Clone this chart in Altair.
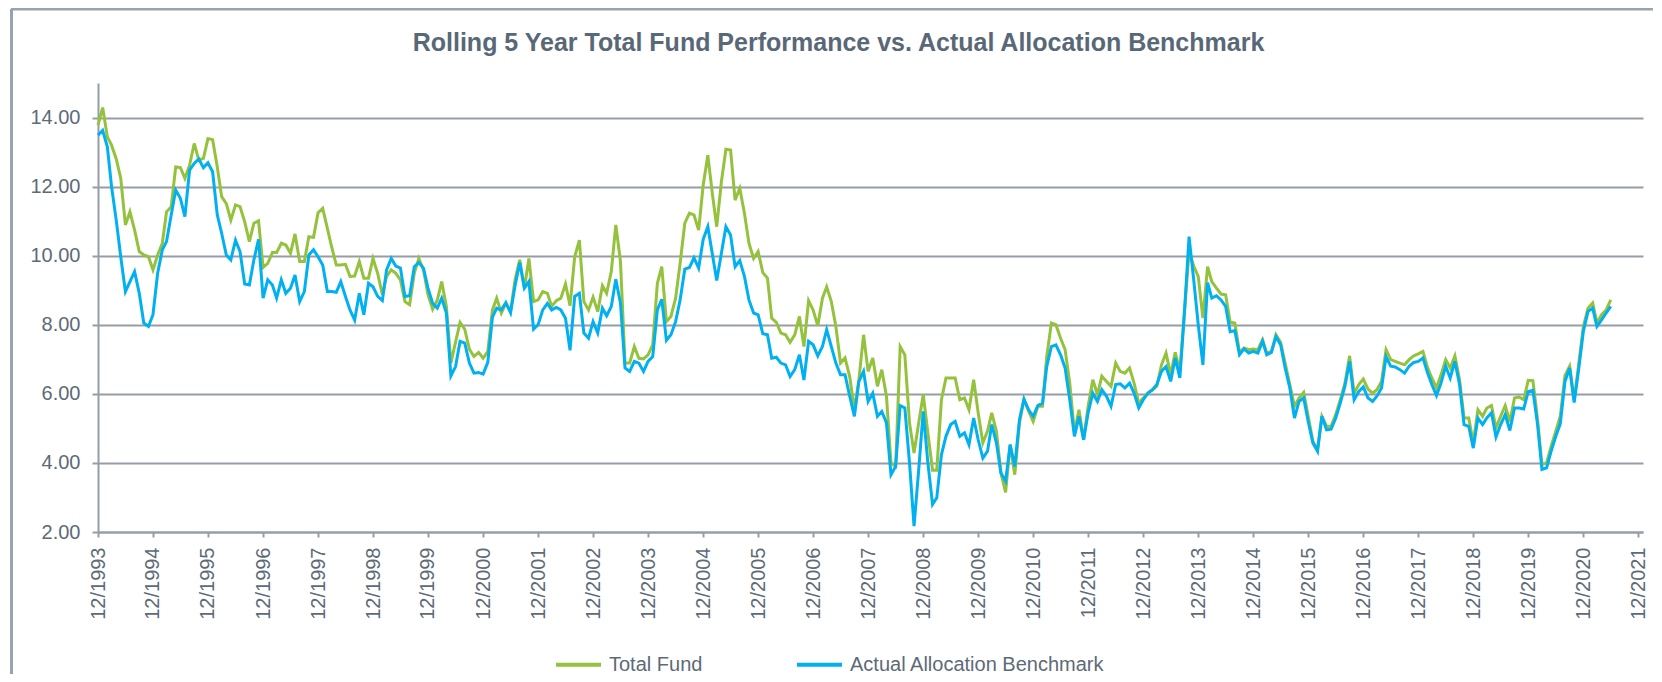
import altair as alt
import pandas as pd

start_month = "1993-12-01"
series_names = ["Total Fund", "Actual Allocation Benchmark"]
series_colors = ["#94c23c", "#00b0f0"]
tick_years = list(range(1993, 2022))
y_ticks = [2, 4, 6, 8, 10, 12, 14]

total_fund = [
    13.78, 14.29, 13.44, 13.2, 12.8, 12.24, 10.89, 11.27, 10.74, 10.12,
    10.02, 9.97, 9.59, 10.02, 10.36, 11.27, 11.42, 12.57, 12.55, 12.24,
    12.62, 13.25, 12.77, 12.82, 13.39, 13.36, 12.57, 11.71, 11.51, 11.03,
    11.47, 11.42, 10.98, 10.41, 10.94, 11.01, 9.66, 9.78, 10.09, 10.09,
    10.36, 10.31, 10.07, 10.63, 9.83, 9.83, 10.55, 10.53, 11.24, 11.37,
    10.79, 10.26, 9.73, 9.73, 9.75, 9.4, 9.41, 9.83, 9.35, 9.35,
    9.92, 9.49, 8.87, 9.4, 9.59,
    9.49, 9.3, 8.67, 8.58, 9.5, 9.92, 9.59, 8.87, 8.45, 8.72,
    9.25, 8.53, 6.89, 7.5, 8.07, 7.87, 7.29, 7.08, 7.2, 7.03,
    7.23, 8.43, 8.77, 8.34, 8.62, 8.38, 9.3, 9.88, 9.06, 9.92,
    8.67, 8.72, 8.96, 8.91, 8.53, 8.7, 8.77, 9.18, 8.55, 9.97,
    10.45, 8.67, 8.43, 8.8, 8.38, 9.13, 8.91, 9.54, 10.89, 9.83,
    6.89, 6.89, 7.37, 7.03, 7.01, 7.13, 7.42, 9.2, 9.68, 8.09,
    8.24, 8.77, 9.78, 10.94, 11.23, 11.18, 10.74, 12.04, 12.91, 11.76,
    10.84, 12.14, 13.08, 13.06, 11.61, 11.95, 11.23, 10.36, 9.92, 10.12,
    9.51, 9.35, 8.19, 8.07, 7.76, 7.71, 7.49, 7.71, 8.24, 7.37,
    8.7, 8.43, 7.97,
    8.77, 9.1, 8.67, 7.95, 6.89, 7.04, 6.5, 5.54, 6.41, 7.71,
    6.65, 7.04, 6.22, 6.7, 5.93, 4.0, 3.9, 7.37, 7.13, 5.16,
    4.29, 5.16, 5.98, 4.87, 3.79, 3.79, 5.83, 6.46, 6.46, 6.46,
    5.83, 5.88, 5.54, 6.41, 5.45, 4.58, 4.92, 5.45, 4.92, 3.71,
    3.15, 4.53, 3.66, 5.16, 5.83, 5.5, 5.2, 5.64, 5.64, 7.08,
    8.05, 8.0, 7.61, 7.28, 6.31, 4.87, 5.54, 4.67, 5.64, 6.41,
    5.98, 6.51, 6.36, 6.22, 6.89, 6.65, 6.6, 6.75, 6.31, 5.73,
    5.88, 6.02, 6.12, 6.22, 6.84, 7.18, 6.55, 7.2, 6.65,
    8.4, 10.1, 9.7, 9.4, 8.19, 9.68, 9.25, 9.06, 8.89, 8.87, 8.07, 8.05,
    7.2, 7.33, 7.28, 7.3, 7.28, 7.57, 7.18, 7.23, 7.71, 7.49,
    6.89, 6.27, 5.64, 5.88, 6.04, 5.35, 4.63, 4.39, 5.35, 5.06,
    5.06, 5.4, 5.83, 6.31, 7.1, 6.02, 6.27, 6.43, 6.14, 6.02,
    6.12, 6.36, 7.28, 6.99, 6.94, 6.89, 6.84, 6.99, 7.1, 7.16,
    7.23, 6.75, 6.46, 6.17, 6.55, 6.99, 6.75, 7.1, 6.41, 5.3,
    5.3, 4.58, 5.54, 5.35, 5.59, 5.66, 5.01, 5.35, 5.66, 5.2,
    5.88, 5.91, 5.83, 6.39, 6.38, 5.25, 3.95, 4.0, 4.48, 4.92,
    5.35, 6.53, 6.8, 5.83, 6.89, 7.95, 8.48, 8.63, 8.05, 8.29,
    8.43, 8.72,
]

benchmark = [
    13.49, 13.63, 13.15, 12.0, 11.03, 9.97, 8.96, 9.25, 9.54, 8.91,
    8.05, 7.95, 8.29, 9.49, 10.17, 10.41, 11.18, 11.9, 11.66, 11.13,
    12.48, 12.67, 12.8, 12.55, 12.69, 12.43, 11.18, 10.65, 10.02, 9.88,
    10.45, 10.12, 9.18, 9.15, 9.88, 10.47, 8.77, 9.3, 9.15, 8.77,
    9.3, 8.91, 9.06, 9.44, 8.67, 8.96, 10.02, 10.17, 9.97, 9.73,
    8.96, 8.96, 8.94, 9.25, 8.82, 8.43, 8.14, 8.91, 8.29, 9.2,
    9.1, 8.82, 8.7, 9.59, 9.92,
    9.7, 9.64, 8.82, 8.84, 9.68, 9.8, 9.64, 9.06, 8.62, 8.48,
    8.77, 8.34, 6.52, 6.79, 7.52, 7.47, 6.89, 6.6, 6.62, 6.57,
    6.91, 8.22, 8.48, 8.43, 8.64, 8.35, 9.13, 9.8, 9.06, 9.25,
    7.87, 8.0, 8.43, 8.62, 8.43, 8.5, 8.43, 8.19, 7.26, 8.82,
    8.91, 7.76, 7.61, 8.09, 7.76, 8.48, 8.26, 8.53, 9.32, 8.62,
    6.75, 6.65, 6.94, 6.89, 6.65, 6.94, 7.08, 8.43, 8.74, 7.55,
    7.71, 8.09, 8.72, 9.61, 9.66, 9.94, 9.64, 10.47, 10.84, 10.02,
    9.28, 10.07, 10.84, 10.6, 9.68, 9.86, 9.4, 8.72, 8.34, 8.29,
    7.74, 7.71, 7.03, 7.06, 6.89, 6.84, 6.5, 6.7, 7.13, 6.4,
    7.52, 7.42, 7.1,
    7.37, 7.86, 7.37, 6.89, 6.55, 6.55, 5.93, 5.35, 6.36, 6.65,
    5.78, 6.02, 5.35, 5.49, 5.16, 3.66, 3.9, 5.66, 5.59, 4.0,
    2.17, 3.8, 5.49, 4.0, 2.8, 2.99, 4.24, 4.77, 5.11, 5.2,
    4.77, 4.87, 4.53, 5.3, 4.67, 4.14, 4.34, 5.11, 4.58, 3.71,
    3.47, 4.53, 3.9, 5.25, 5.85, 5.54, 5.35, 5.66, 5.73, 6.79,
    7.37, 7.42, 7.13, 6.75, 5.83, 4.77, 5.35, 4.67, 5.45, 6.02,
    5.78, 6.12, 5.93, 5.64, 6.27, 6.29, 6.17, 6.31, 6.02, 5.59,
    5.83, 6.02, 6.12, 6.27, 6.65, 6.79, 6.36, 7.04, 6.46,
    8.4, 10.55, 9.3, 8.0, 6.84, 9.22, 8.77, 8.84, 8.72, 8.53, 7.8, 7.83,
    7.13, 7.3, 7.18, 7.23, 7.18, 7.52, 7.13, 7.2, 7.66, 7.42,
    6.75, 6.17, 5.3, 5.78, 5.88, 5.2, 4.58, 4.34, 5.35, 4.96,
    4.98, 5.3, 5.73, 6.22, 6.94, 5.83, 6.07, 6.2, 5.88, 5.78,
    5.93, 6.17, 7.07, 6.8, 6.78, 6.7, 6.6, 6.8, 6.91, 6.94,
    7.04, 6.6, 6.27, 5.95, 6.31, 6.8, 6.46, 6.94, 6.27, 5.11,
    5.06, 4.43, 5.3, 5.11, 5.3, 5.45, 4.75, 5.11, 5.4, 4.94,
    5.59, 5.59, 5.56, 6.07, 6.1, 5.11, 3.81, 3.86, 4.34, 4.77,
    5.14, 6.36, 6.75, 5.75, 6.75, 7.81, 8.39, 8.48, 7.95, 8.14,
    8.34, 8.53,
]

FONT = "Liberation Sans"
TEXT = "#5d6a77"
GRID = "#959ea6"

tf_df = pd.DataFrame({
    "date": pd.date_range(start_month, periods=len(total_fund), freq="MS"),
    "value": total_fund,
    "series": series_names[0],
})
bm_df = pd.DataFrame({
    "date": pd.date_range(start_month, periods=len(benchmark), freq="MS"),
    "value": benchmark,
    "series": series_names[1],
})

x_enc = alt.X(
    "date:T",
    scale=alt.Scale(domain=[alt.DateTime(year=1993, month=12, date=1),
                            alt.DateTime(year=2022, month=1, date=1)]),
    axis=alt.Axis(
        values=[alt.DateTime(year=y, month=12, date=1) for y in tick_years],
        format="%m/%Y", labelAngle=-90, labelFontSize=20, labelFont=FONT,
        labelColor=TEXT, tickSize=5, tickWidth=2, tickColor=GRID,
        labelPadding=10, domainColor=GRID, domainWidth=2, grid=False,
        title=None, labelOverlap=False, labelFlush=False,
    ),
)
y_enc = alt.Y(
    "value:Q",
    scale=alt.Scale(domain=[2, 15], nice=False, zero=False),
    axis=alt.Axis(
        values=y_ticks, format=".2f", labelFontSize=20, labelFont=FONT,
        labelColor=TEXT, tickSize=6, tickWidth=2, tickColor=GRID,
        labelPadding=12, domainColor=GRID, domainWidth=2, grid=True,
        gridColor=GRID, gridWidth=2, title=None,
    ),
)
color_enc = alt.Color(
    "series:N",
    scale=alt.Scale(domain=series_names, range=series_colors),
    legend=alt.Legend(
        title=None, orient="none", legendX=456, legendY=557,
        direction="horizontal", symbolType="stroke", symbolSize=2025,
        symbolStrokeWidth=4, labelFontSize=20, labelFont=FONT,
        labelColor=TEXT, labelOffset=6, columnPadding=86, labelLimit=500,
    ),
)

tf_line = alt.Chart(tf_df).mark_line(strokeWidth=3).encode(x=x_enc, y=y_enc, color=color_enc)
bm_line = alt.Chart(bm_df).mark_line(strokeWidth=3).encode(x=x_enc, y=y_enc, color=color_enc)

frame_df = pd.DataFrame({"k": [0]})
frame_top = alt.Chart(frame_df).mark_rule(color="#97a4b0", strokeWidth=3).encode(
    x=alt.value(-87), x2=alt.value(1560), y=alt.value(-74))
frame_left = alt.Chart(frame_df).mark_rule(color="#97a4b0", strokeWidth=3).encode(
    x=alt.value(-86.5), y=alt.value(-74), y2=alt.value(600))

chart = alt.layer(frame_top, frame_left, tf_line, bm_line).properties(
    width=1545, height=449,
    autosize=alt.AutoSizeParams(type="none"),
    padding={"left": 90, "top": 75, "right": 10, "bottom": 142},
    title=alt.TitleParams(
        text="Rolling 5 Year Total Fund Performance vs. Actual Allocation Benchmark",
        fontSize=25, fontWeight="bold", font=FONT, color="#596877",
        anchor="middle", frame="group", dx=-32, offset=-68, baseline="alphabetic",
    ),
).configure_view(strokeWidth=0)

chart.save("out.html", embed_options={"renderer": "svg", "actions": False})
